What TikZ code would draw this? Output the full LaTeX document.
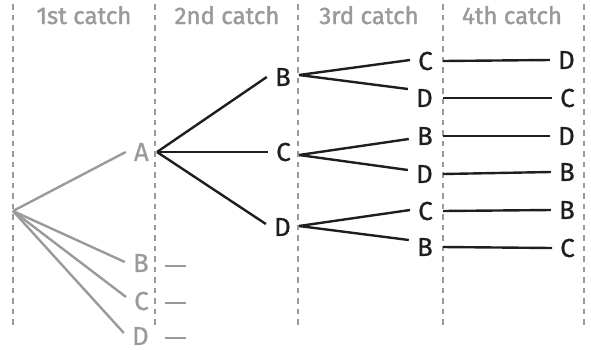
\documentclass[tikz,border=0pt]{standalone}
\usepackage{fontspec}
\setmainfont{Fira Sans}
\newfontfamily\labfont{Fira Sans}[FakeBold=0.6]
\newfontfamily\headfont{Fira Sans}[FakeBold=1.6]
\definecolor{lightgrey}{HTML}{9A9A9A}
\definecolor{ink}{HTML}{1E1E1E}
\tikzset{
  guide/.style={draw=lightgrey,line width=2.2pt,dash pattern=on 5.5pt off 5pt},
  header/.style={text=lightgrey,font=\headfont\fontsize{24}{24}\selectfont,anchor=base,inner sep=0pt},
  lab/.style={font=\labfont\fontsize{26}{26}\selectfont,anchor=east,inner xsep=8pt,inner ysep=0pt,text=ink},
  glab/.style={lab,text=lightgrey},
  branch/.style={draw=ink,line width=2.4pt},
  gbranch/.style={draw=lightgrey,line width=2.4pt},
}
\begin{document}
\begin{tikzpicture}[x=1pt,y=-1pt]
\useasboundingbox (0,0) rectangle (591,349);
% guide lines
\foreach \gx/\gn in {13/g0,155/g1,298/g2,443/g3,584/g4}{
  \coordinate (\gn t) at (\gx,4);
  \coordinate (\gn b) at (\gx,329);
  \draw[guide] (\gn t) -- (\gn b);
}
% headers
\node[header] (h1) at (84,24) {1st catch};
\node[header] (h2) at (227,24) {2nd catch};
\node[header] (h3) at (369,24) {3rd catch};
\node[header] (h4) at (512,24) {4th catch};
% root
\coordinate (root) at (13,211);
% level 1
\node[glab] (A)  at (157,152) {A};
\node[glab] (B1) at (157,263) {B};
\node[glab] (C1) at (157,301) {C};
\node[glab] (D1) at (157,336) {D};
\draw[gbranch] (root) -- (A.west);
\draw[gbranch] (root) -- ([yshift=1pt]B1.west);
\draw[gbranch] (root) -- ([yshift=4pt]C1.west);
\draw[gbranch] (root) -- ([yshift=3pt]D1.west);
\coordinate (B1s) at ([xshift=8pt,yshift=-3pt]B1.east);
\coordinate (B1e) at ([xshift=29pt,yshift=-3pt]B1.east);
\coordinate (C1s) at ([xshift=8pt,yshift=-2pt]C1.east);
\coordinate (C1e) at ([xshift=29pt,yshift=-2pt]C1.east);
\coordinate (D1s) at ([xshift=8pt,yshift=-2pt]D1.east);
\coordinate (D1e) at ([xshift=29pt,yshift=-2pt]D1.east);
\foreach \n in {B1,C1,D1}{
  \draw[gbranch] (\n s) -- (\n e);
}
% level 2
\node[lab] (B2) at (299,77) {B};
\node[lab] (C2) at (299,152) {C};
\node[lab] (D2) at (299,227) {D};
\draw[branch] (A.east) -- (B2.west);
\draw[branch] (A.east) -- (C2.west);
\draw[branch] (A.east) -- ([yshift=3pt]D2.west);
% level 3
\node[lab] (C3a) at (441,61) {C};
\node[lab] (D3a) at (441,98) {D};
\node[lab] (B3b) at (441,136) {B};
\node[lab] (D3b) at (441,174) {D};
\node[lab] (C3c) at (441,211) {C};
\node[lab] (B3c) at (441,247) {B};
\draw[branch] ([yshift=2pt]B2.east) -- ([yshift=1pt]C3a.west);
\draw[branch] ([yshift=2pt]B2.east) -- ([yshift=9pt]D3a.west);
\draw[branch] ([yshift=-3pt]C2.east) -- ([yshift=-3pt]B3b.west);
\draw[branch] ([yshift=-3pt]C2.east) -- ([yshift=4pt]D3b.west);
\draw[branch] ([yshift=1pt]D2.east) -- ([yshift=1pt]C3c.west);
\draw[branch] ([yshift=1pt]D2.east) -- ([yshift=7pt]B3c.west);
% level 4
\node[lab] (D4a) at (583,60) {D};
\node[lab] (C4a) at (583,98) {C};
\node[lab] (D4b) at (583,136) {D};
\node[lab] (B4b) at (583,172) {B};
\node[lab] (B4c) at (583,210) {B};
\node[lab] (C4c) at (583,248) {C};
\draw[branch] ([xshift=2pt]C3a.east) -- (D4a.west);
\draw[branch] ([xshift=2pt]D3a.east) -- (C4a.west);
\draw[branch] ([xshift=2pt]B3b.east) -- (D4b.west);
\draw[branch] ([xshift=2pt]D3b.east) -- (B4b.west);
\draw[branch] ([xshift=2pt]C3c.east) -- (B4c.west);
\draw[branch] ([xshift=2pt]B3c.east) -- (C4c.west);
\end{tikzpicture}
\end{document}
